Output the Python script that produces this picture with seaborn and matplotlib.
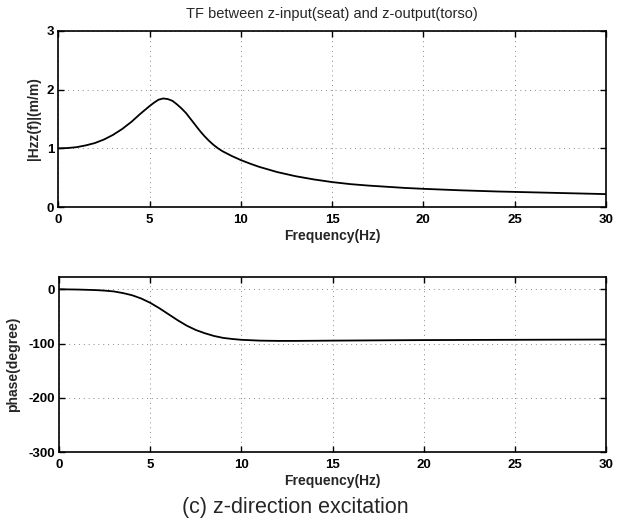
import matplotlib
matplotlib.use("Agg")
import matplotlib.pyplot as plt
import seaborn as sns
import pandas as pd

# --- data ---
freq_mag = [0, 0.5, 1, 1.5, 2, 2.5, 3, 3.5, 4, 4.5, 5, 5.25, 5.5, 5.75, 6, 6.25,
            6.5, 6.75, 7, 7.25, 7.5, 7.75, 8, 8.25, 8.5, 8.75, 9, 9.5, 10, 10.5,
            11, 11.5, 12, 13, 14, 15, 16, 17, 18, 19, 20, 22, 24, 26, 28, 30]
mag = [1.00, 1.005, 1.02, 1.05, 1.09, 1.15, 1.23, 1.33, 1.45, 1.59, 1.72, 1.78,
       1.83, 1.85, 1.84, 1.81, 1.75, 1.68, 1.60, 1.50, 1.40, 1.30, 1.21, 1.13,
       1.06, 1.00, 0.95, 0.87, 0.80, 0.74, 0.685, 0.64, 0.595, 0.525, 0.47,
       0.425, 0.39, 0.365, 0.345, 0.325, 0.31, 0.285, 0.265, 0.25, 0.235, 0.22]

freq_ph = [0, 1, 2, 2.5, 3, 3.5, 4, 4.5, 5, 5.5, 6, 6.5, 7, 7.5, 8, 8.5, 9, 9.5,
           10, 11, 12, 13, 15, 20, 25, 30]
phase = [0, -0.5, -1.5, -2.5, -4, -7, -11, -17, -25, -35, -46, -57, -67, -75,
         -81, -86, -89.5, -91.5, -93, -94.5, -95, -95, -94.5, -93.5, -93, -92.5]

xticks = [0, 5, 10, 15, 20, 25, 30]
mag_yticks = [0, 1, 2, 3]
ph_yticks = [0, -100, -200, -300]

title = "TF between z-input(seat) and z-output(torso)"
xlabel = "Frequency(Hz)"
mag_label = "|Hzz(f)|(m/m)"
ph_label = "phase(degree)"
caption = "(c) z-direction excitation"

sns.set_theme(style="white")
plt.rcParams["font.family"] = ["Liberation Sans", "DejaVu Sans"]

fig = plt.figure(figsize=(6.17, 5.2), dpi=100)
ax1 = fig.add_axes([0.0945, 0.6019, 0.8875, 0.3385])
ax2 = fig.add_axes([0.0960, 0.1302, 0.8860, 0.3365])

df_m = pd.DataFrame({"f": freq_mag, "v": mag})
df_p = pd.DataFrame({"f": freq_ph, "v": phase})

sns.lineplot(data=df_m, x="f", y="v", ax=ax1, color="black", lw=1.3, estimator=None)
sns.lineplot(data=df_p, x="f", y="v", ax=ax2, color="black", lw=1.3, estimator=None)

tick_font = dict(fontsize=9.5, fontweight="bold")
for ax, yt, ylim in [(ax1, mag_yticks, (0, 3)),
                     (ax2, ph_yticks, (-300, 22))]:
    ax.set_xlim(0, 30)
    ax.set_ylim(*ylim)
    ax.set_xticks(xticks)
    ax.set_yticks(yt)
    ax.set_xticklabels([str(t) for t in xticks], **tick_font)
    ax.set_yticklabels([str(t) for t in yt], **tick_font)
    ax.tick_params(direction="in", length=4, width=1.0, top=True, right=True,
                   bottom=True, left=True, colors="black")
    ax.tick_params(axis="x", pad=5)
    ax.tick_params(axis="y", pad=3)
    ax.grid(True, linestyle=(0, (1, 4)), color="#888888", linewidth=0.7)
    for s in ax.spines.values():
        s.set_color("black")
        s.set_linewidth(1.2)
    ax.set_xlabel(xlabel, fontsize=10, fontweight="bold", labelpad=2)

ax1.set_ylabel(mag_label, fontsize=10, fontweight="bold", labelpad=4)
ax2.set_ylabel(ph_label, fontsize=10, fontweight="bold", labelpad=6)

ax1.set_title(title, fontsize=10.5, pad=9)

fig.text(0.478, 0.025, caption, fontsize=15.5, ha="center", va="center",
         family=["Liberation Sans Narrow", "Liberation Sans", "DejaVu Sans"])

fig.savefig("out.png", dpi=100, facecolor="white")
